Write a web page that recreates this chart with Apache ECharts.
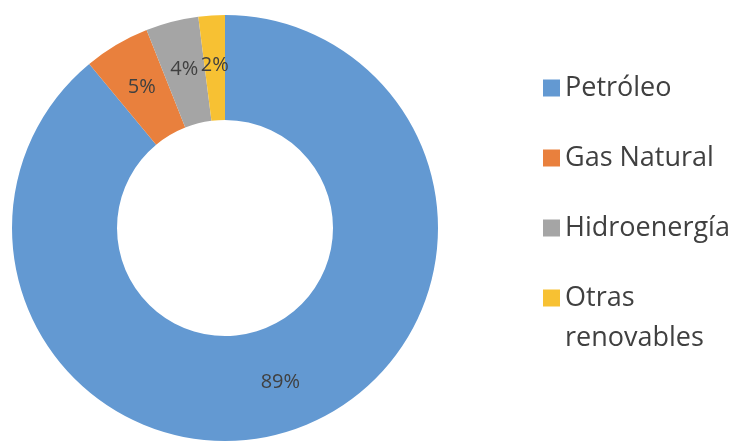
<!DOCTYPE html>
<html>
<head>
<meta charset="utf-8">
<script src="https://cdn.jsdelivr.net/npm/echarts@6/dist/echarts.min.js"></script>
<style>
  html, body { margin: 0; padding: 0; background: #ffffff; }
  #chart { width: 734px; height: 447px; }
</style>
</head>
<body>
<div id="chart"></div>
<script>
// Energy mix shares (%)
const categories = ['Petróleo', 'Gas Natural', 'Hidroenergía', 'Otras renovables'];
const shares = [89, 5, 4, 2];
const colors = ['#6399D2', '#E9803D', '#A5A5A5', '#F7C133'];

const textColor = '#404040';
const legendFont = 'Open Sans';
const legendSize = 27;

const chart = echarts.init(document.getElementById('chart'));
chart.setOption({
  animation: false,
  color: colors,
  legend: {
    orient: 'vertical',
    left: 538,
    top: 64,
    itemWidth: 17,
    itemHeight: 17,
    itemGap: 32,
    icon: 'rect',
    data: categories,
    // the last entry wraps: its first word sits beside the swatch,
    // the second word goes on the line below (graphic text)
    formatter: function (name) {
      return name === 'Otras renovables' ? 'Otras' : name;
    },
    textStyle: {
      fontFamily: legendFont,
      fontSize: legendSize,
      lineHeight: 38,
      color: textColor
    }
  },
  graphic: [{
    type: 'text',
    left: 565,
    top: 319,
    silent: true,
    style: {
      text: 'renovables',
      fontFamily: legendFont,
      fontSize: legendSize,
      lineHeight: 38,
      fill: textColor
    }
  }],
  series: [{
    type: 'pie',
    center: [225, 228],
    radius: [108, 213],
    startAngle: 90,
    clockwise: true,
    avoidLabelOverlap: false,
    label: {
      show: true,
      position: 'inside',
      formatter: '{c}%',
      fontFamily: 'Open Sans',
      fontSize: 20,
      color: textColor
    },
    labelLine: { show: false },
    itemStyle: { borderWidth: 0 },
    emphasis: { disabled: true },
    data: categories.map(function (name, i) {
      return { name: name, value: shares[i] };
    })
  }]
});
</script>
</body>
</html>
